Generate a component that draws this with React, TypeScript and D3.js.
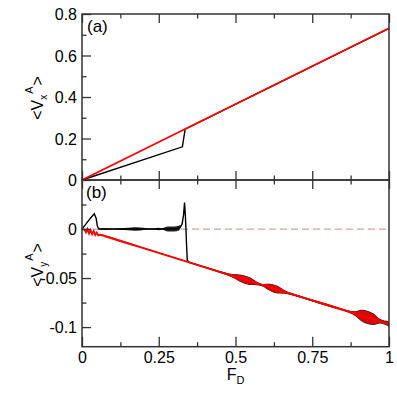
import { useRef, useEffect } from "react"
import * as d3 from "d3"

// panel (a): <Vx^A> vs F_D
const fTopRed = [0, 1]
const vxRed = [0, 0.731]
const fTopBlack = [0, 0.327, 0.336, 1]
const vxBlack = [0, 0.16, 0.245, 0.731]

// panel (b): <Vy^A> vs F_D
const fBotRed = [0, 0.008, 0.013, 0.018, 0.023, 0.028, 0.033, 0.038, 0.043, 0.048, 0.053, 0.06, 0.25, 0.5, 0.75, 1]
const vyRed = [0, -0.0005, -0.0035, 0, -0.0045, -0.001, -0.0055, -0.002, -0.006, -0.0035, -0.0065, -0.0058, -0.0243, -0.0487, -0.0728, -0.0968]
const fBotBlack = [0, 0.01, 0.02, 0.03, 0.04, 0.046, 0.05, 0.055, 0.1, 0.2, 0.3, 0.318, 0.326, 0.331, 0.334, 0.337, 0.34, 0.343, 0.35, 0.5, 0.75, 1]
const vyBlack = [0, 0.004, 0.008, 0.012, 0.0155, 0.011, 0.003, 0, 0, 0, 0, 0.001, 0.005, 0.015, 0.027, 0.012, -0.012, -0.032, -0.034, -0.0487, -0.0728, -0.0968]

// half width of the fluctuation band around each curve
const redNoiseF = [0.06, 0.1, 0.2, 0.3, 0.35, 0.4, 0.45, 0.49, 0.52, 0.545, 0.57, 0.59, 0.61, 0.635, 0.66, 0.68, 0.72, 0.78, 0.82, 0.86, 0.89, 0.91, 0.93, 0.95, 0.97, 0.985, 1]
const redNoiseAmp = [0.001, 0.0012, 0.0008, 0.0006, 0.0005, 0.0005, 0.0008, 0.0015, 0.0035, 0.0035, 0.0015, 0.0012, 0.003, 0.0035, 0.0015, 0.001, 0.0008, 0.001, 0.0012, 0.001, 0.002, 0.005, 0.006, 0.005, 0.002, 0.0015, 0.0025]
const blackNoiseF = [0.055, 0.08, 0.1, 0.12, 0.15, 0.17, 0.19, 0.21, 0.23, 0.25, 0.26, 0.28, 0.3, 0.315, 0.322]
const blackNoiseAmp = [0.0005, 0.0008, 0.0005, 0.0008, 0.0012, 0.0018, 0.0015, 0.0008, 0.0006, 0.0012, 0.0008, 0.0025, 0.0025, 0.0025, 0.001]
const blackNoise2F = [0.35, 0.45, 0.49, 0.52, 0.545, 0.57, 0.59, 0.61, 0.635, 0.66, 0.7, 0.8, 0.87, 0.89, 0.91, 0.93, 0.95, 0.97, 1]
const blackNoise2Amp = [0.0006, 0.0008, 0.0018, 0.004, 0.004, 0.0018, 0.0014, 0.0035, 0.004, 0.0018, 0.001, 0.0012, 0.001, 0.0024, 0.0058, 0.0068, 0.0058, 0.0024, 0.0028]

const xTicks = [0, 0.25, 0.5, 0.75, 1]
const xTickLabels = ["0", "0.25", "0.5", "0.75", "1"]
const xMinor = [0.125, 0.375, 0.625, 0.875]
const topTicks = [0, 0.2, 0.4, 0.6, 0.8]
const topTickLabels = ["0", "0.2", "0.4", "0.6", "0.8"]
const topMinor = [0.1, 0.3, 0.5, 0.7]
const botTicks = [-0.1, -0.05, 0]
const botTickLabels = ["-0.1", "-0.05", "0"]
const botMinor = [-0.075, -0.025, 0.025]

export default function App() {
    const svgRef = useRef(null)
    useEffect(() => {
        const width = 397, height = 394
        const left = 82, right = 389, top = 14, mid = 180, bottom = 346.7
        const font = "'Liberation Sans', Arial, sans-serif"
        const axisColor = "#333"

        const svg = d3.select(svgRef.current)
        svg.selectAll("*").remove()
        svg.attr("width", width).attr("height", height)

        const x = d3.scaleLinear().domain([0, 1]).range([left, right])
        const yTop = d3.scaleLinear().domain([0, 0.8]).range([mid, top])
        const yBot = d3.scaleLinear().domain([-0.12, 0.05]).range([bottom, mid])

        // zero line in panel (b)
        svg.append("line")
            .attr("x1", left).attr("x2", right)
            .attr("y1", yBot(0)).attr("y2", yBot(0))
            .attr("stroke", "#cfa3a3").attr("stroke-width", 1.3)
            .attr("stroke-dasharray", "7,4")

        const band = (fArr, vArr, nf, na, y) => {
            const base = d3.scaleLinear().domain(fArr).range(vArr)
            const pts = nf.map((f, i) => ({ f, v: base(f), a: na[i] }))
            return d3.area()
                .x(d => x(d.f))
                .y0(d => y(d.v - d.a))
                .y1(d => y(d.v + d.a))
                .curve(d3.curveMonotoneX)(pts)
        }
        const line = (fArr, vArr, y) =>
            d3.line().x(d => x(d[0])).y(d => y(d[1]))(fArr.map((f, i) => [f, vArr[i]]))

        // panel (b) curves
        svg.append("path").attr("d", band(fBotBlack, vyBlack, blackNoiseF, blackNoiseAmp, yBot))
            .attr("fill", "#222")
        svg.append("path").attr("d", band(fBotBlack, vyBlack, blackNoise2F, blackNoise2Amp, yBot))
            .attr("fill", "#222")
        svg.append("path").attr("d", line(fBotBlack, vyBlack, yBot))
            .attr("fill", "none").attr("stroke", "black").attr("stroke-width", 1.4)
        svg.append("path").attr("d", band(fBotRed, vyRed, redNoiseF, redNoiseAmp, yBot))
            .attr("fill", "red").attr("fill-opacity", 0.85)
        svg.append("path").attr("d", line(fBotRed, vyRed, yBot))
            .attr("fill", "none").attr("stroke", "red").attr("stroke-width", 1.8)

        // panel (a) curves
        svg.append("path").attr("d", line(fTopBlack, vxBlack, yTop))
            .attr("fill", "none").attr("stroke", "black").attr("stroke-width", 1.4)
        svg.append("path").attr("d", line(fTopRed, vxRed, yTop))
            .attr("fill", "none").attr("stroke", "red").attr("stroke-width", 1.8)

        // ticks
        const addAxis = (axis, tx, ty) => {
            const g = svg.append("g").attr("transform", `translate(${tx},${ty})`).call(axis)
            g.select(".domain").remove()
            g.selectAll("line").attr("stroke", axisColor).attr("stroke-width", 1.3)
            g.selectAll("text").style("font-family", font).style("font-size", "16px").attr("fill", "black")
            return g
        }
        // x axis, bottom edge with labels
        addAxis(d3.axisBottom(x).tickValues(xTicks).tickSizeInner(-10).tickSizeOuter(0).tickPadding(5)
            .tickFormat((d, i) => xTickLabels[i]), 0, bottom)
        addAxis(d3.axisBottom(x).tickValues(xMinor).tickSizeInner(-4.5).tickSizeOuter(0).tickFormat(() => ""), 0, bottom)
        // panel boundary, up and down
        addAxis(d3.axisBottom(x).tickValues(xTicks).tickSizeInner(-9).tickSizeOuter(0).tickFormat(() => ""), 0, mid)
        addAxis(d3.axisBottom(x).tickValues(xMinor).tickSizeInner(-4.5).tickSizeOuter(0).tickFormat(() => ""), 0, mid)
        addAxis(d3.axisTop(x).tickValues(xTicks).tickSizeInner(-9).tickSizeOuter(0).tickFormat(() => ""), 0, mid)
        addAxis(d3.axisTop(x).tickValues(xMinor).tickSizeInner(-4.5).tickSizeOuter(0).tickFormat(() => ""), 0, mid)
        // top edge
        addAxis(d3.axisTop(x).tickValues(xTicks).tickSizeInner(-9).tickSizeOuter(0).tickFormat(() => ""), 0, top)
        addAxis(d3.axisTop(x).tickValues(xMinor).tickSizeInner(-4.5).tickSizeOuter(0).tickFormat(() => ""), 0, top)

        const topY = addAxis(d3.axisLeft(yTop).tickValues(topTicks).tickSizeInner(-9).tickSizeOuter(0).tickPadding(5)
            .tickFormat((d, i) => topTickLabels[i]), left, 0)
        topY.selectAll("text").attr("dy", "0.36em")
        addAxis(d3.axisLeft(yTop).tickValues(topMinor).tickSizeInner(-4.5).tickSizeOuter(0).tickFormat(() => ""), left, 0)
        const botY = addAxis(d3.axisLeft(yBot).tickValues(botTicks).tickSizeInner(-9).tickSizeOuter(0).tickPadding(5)
            .tickFormat((d, i) => botTickLabels[i]), left, 0)
        botY.selectAll("text").attr("dy", "0.33em")
        addAxis(d3.axisLeft(yBot).tickValues(botMinor).tickSizeInner(-4.5).tickSizeOuter(0).tickFormat(() => ""), left, 0)

        // frames
        svg.append("rect").attr("x", left).attr("y", top).attr("width", right - left).attr("height", mid - top)
            .attr("fill", "none").attr("stroke", axisColor).attr("stroke-width", 1.5)
        svg.append("rect").attr("x", left).attr("y", mid).attr("width", right - left).attr("height", bottom - mid)
            .attr("fill", "none").attr("stroke", axisColor).attr("stroke-width", 1.5)

        // panel tags
        svg.append("text").text("(a)").attr("x", 87).attr("y", 32)
            .style("font-family", font).style("font-size", "17px")
        svg.append("text").text("(b)").attr("x", 86).attr("y", 198)
            .style("font-family", font).style("font-size", "17px")

        // y labels: <V_sub^A>
        const yLabel = (cy, sub) => {
            const t = svg.append("text")
                .attr("transform", `translate(43,${cy}) rotate(-90)`)
                .attr("text-anchor", "middle")
                .style("font-family", font).style("font-size", "16px")
            t.append("tspan").text("<V")
            t.append("tspan").text(sub).attr("dy", 4).style("font-size", "10px")
            t.append("tspan").text("A").attr("dx", 1).attr("dy", -14).style("font-size", "11px")
            t.append("tspan").text(">").attr("dx", 1).attr("dy", 10)
        }
        yLabel(98, "x")
        yLabel(265, "y")

        // x label
        const xl = svg.append("text").attr("x", x(0.5)).attr("y", 380).attr("text-anchor", "middle")
            .style("font-family", font).style("font-size", "16px")
        xl.append("tspan").text("F")
        xl.append("tspan").text("D").attr("dy", 4).style("font-size", "11px")
    }, [])
    return (
        <svg ref={svgRef} style={{ position: "absolute", left: 0, top: 0 }}></svg>
    )
}
